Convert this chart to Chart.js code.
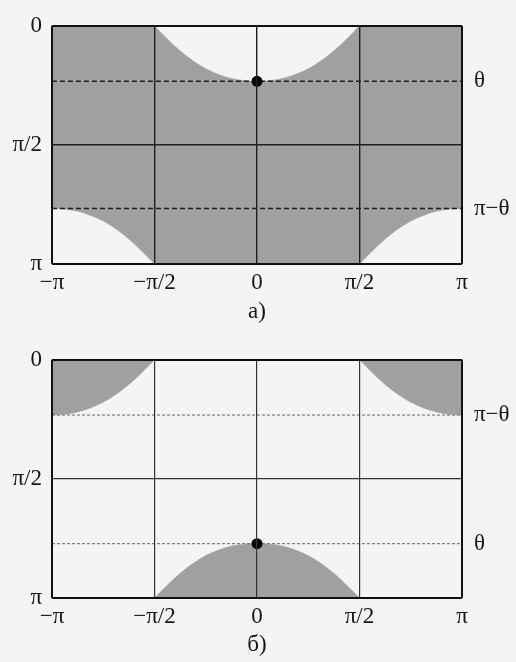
<!DOCTYPE html>
<html>
<head>
<meta charset="utf-8">
<script src="https://cdn.jsdelivr.net/npm/chart.js@4.4.0/dist/chart.umd.min.js"></script>
<style>
  html, body { margin: 0; padding: 0; background: #f4f4f2; }
  canvas { position: absolute; left: 0; }
</style>
</head>
<body>
<canvas id="chartA" width="516" height="330" style="top:0"></canvas>
<canvas id="chartB" width="516" height="328" style="top:334px"></canvas>
<script>
//DATI (angoli in unità di π)
const phiMid = [-0.5, -0.4375, -0.375, -0.3125, -0.25, -0.1875, -0.125, -0.0625, 0, 0.0625, 0.125, 0.1875, 0.25, 0.3125, 0.375, 0.4375, 0.5];
const phiLeft = [-1, -0.9375, -0.875, -0.8125, -0.75, -0.6875, -0.625, -0.5625, -0.5];
const phiRight = [0.5, 0.5625, 0.625, 0.6875, 0.75, 0.8125, 0.875, 0.9375, 1];

//pannello a)
const aMid = [0, 0.055, 0.105, 0.147, 0.180, 0.204, 0.221, 0.230, 0.233, 0.230, 0.221, 0.204, 0.180, 0.147, 0.105, 0.055, 0];
const aLeft = [0.767, 0.770, 0.779, 0.796, 0.820, 0.853, 0.895, 0.945, 1];
const aRight = [1, 0.945, 0.895, 0.853, 0.820, 0.796, 0.779, 0.770, 0.767];
const aDashes = [0.233, 0.767];
const aDashLabels = ['θ', 'π−θ'];
const aDot = 0.233;

//pannello б)
const bMid = [1, 0.946, 0.896, 0.855, 0.822, 0.799, 0.782, 0.774, 0.772, 0.774, 0.782, 0.799, 0.822, 0.855, 0.896, 0.946, 1];
const bLeft = [0.232, 0.229, 0.219, 0.202, 0.178, 0.145, 0.104, 0.054, 0];
const bRight = [0, 0.054, 0.104, 0.145, 0.178, 0.202, 0.219, 0.229, 0.232];
const bDashes = [0.232, 0.772];
const bDashLabels = ['π−θ', 'θ'];
const bDot = 0.772;

//etichette degli assi
const xTicks = [-1, -0.5, 0, 0.5, 1];
const xLabels = ['−π', '−π/2', '0', 'π/2', 'π'];
const yTicks = [0, 0.5, 1];
const yLabels = ['0', 'π/2', 'π'];

const grigio = '#a0a09e';
const inchiostro = '#161616';
const font = { family: '"Liberation Serif", "Times New Roman", serif', size: 23 };

//CREAZIONE GRAFICO
function grafico(id, d) {
  const pts = (xs, ys) => xs.map((x, i) => ({ x: x, y: ys[i] }));
  const zona = (xs, ys, base) => ({
    data: pts(xs, ys),
    fill: { value: base },
    backgroundColor: grigio,
    borderColor: grigio,
    borderWidth: 0.5,
    pointRadius: 0,
    cubicInterpolationMode: 'monotone',
    order: 3
  });
  const tratteggio = (y) => ({
    data: [{ x: -1, y: y }, { x: 1, y: y }],
    borderColor: d.dashColor,
    borderWidth: d.dashWidth,
    borderDash: d.dash,
    pointRadius: 0,
    fill: false,
    order: 2
  });
  const griglia = (edges) => ({
    z: 1,
    drawTicks: false,
    color: (c) => (c.tick && edges.includes(c.tick.value)) ? '#111' : d.gridColor,
    lineWidth: (c) => (c.tick && edges.includes(c.tick.value)) ? 2 : d.gridWidth
  });

  new Chart(document.getElementById(id), {
    type: 'line',
    data: {
      datasets: [
        zona(phiMid, d.mid, 1),
        zona(phiLeft, d.left, 0),
        zona(phiRight, d.right, 0),
        tratteggio(d.dashes[0]),
        tratteggio(d.dashes[1]),
        {
          data: [{ x: 0, y: d.dot }],
          showLine: false,
          pointRadius: 5.5,
          pointBackgroundColor: '#000',
          pointBorderWidth: 0,
          order: 1
        }
      ]
    },
    options: {
      responsive: false,
      animation: false,
      layout: { padding: { top: 18, left: 0, right: 0, bottom: 0 } },
      plugins: { legend: { display: false }, tooltip: { enabled: false } },
      scales: {
        x: {
          type: 'linear', min: -1, max: 1,
          afterBuildTicks: (s) => { s.ticks = xTicks.map(v => ({ value: v })); },
          afterFit: (s) => { s.height = d.xHeight; },
          grid: griglia([-1, 1]),
          border: { display: false },
          ticks: {
            padding: 5, color: inchiostro, font: font, maxRotation: 0, autoSkip: false,
            callback: (v, i) => xLabels[i]
          },
          title: {
            display: true, text: d.caption, color: inchiostro, font: font,
            padding: { top: 0, bottom: d.capPad }
          }
        },
        y: {
          type: 'linear', min: 0, max: 1, reverse: true, position: 'left',
          afterBuildTicks: (s) => { s.ticks = yTicks.map(v => ({ value: v })); },
          afterFit: (s) => { s.width = 52; },
          grid: griglia([0, 1]),
          border: { display: false },
          ticks: {
            padding: 10, color: inchiostro, font: font, autoSkip: false,
            callback: (v, i) => yLabels[i]
          }
        },
        y2: {
          type: 'linear', min: 0, max: 1, reverse: true, position: 'right',
          afterBuildTicks: (s) => { s.ticks = d.dashes.map(v => ({ value: v })); },
          afterFit: (s) => { s.width = 54; },
          grid: { display: false, drawTicks: false },
          border: { display: false },
          ticks: {
            padding: 12, color: inchiostro, font: font, autoSkip: false,
            callback: (v, i) => d.dashLabels[i]
          }
        }
      }
    }
  });
}

grafico('chartA', {
  mid: aMid, left: aLeft, right: aRight,
  dashes: aDashes, dashLabels: aDashLabels, dot: aDot,
  dashColor: '#1e1e1e', dashWidth: 1.6, dash: [5, 3],
  gridColor: '#1e1e1e', gridWidth: 1.4,
  caption: 'а)', xHeight: 66, capPad: 4
});

grafico('chartB', {
  mid: bMid, left: bLeft, right: bRight,
  dashes: bDashes, dashLabels: bDashLabels, dot: bDot,
  dashColor: '#666', dashWidth: 1, dash: [3, 2],
  gridColor: '#333', gridWidth: 1.2,
  caption: 'б)', xHeight: 64, capPad: 3
});
</script>
</body>
</html>
